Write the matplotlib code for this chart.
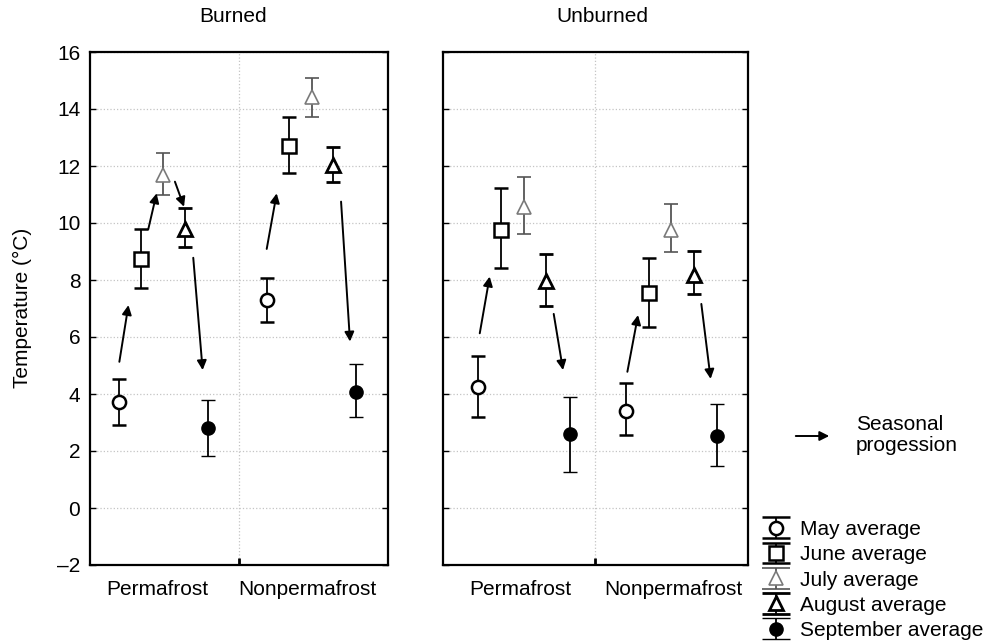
import matplotlib

matplotlib.use("Agg")

import matplotlib.pyplot as plt
import numpy as np
from matplotlib.container import ErrorbarContainer
from matplotlib.legend_handler import HandlerErrorbar
from matplotlib.patches import FancyArrowPatch
from matplotlib.ticker import FixedLocator

plt.rcParams["font.family"] = ["Liberation Sans", "DejaVu Sans"]

MONTHS = ["May", "June", "July", "August", "September"]
SITES = ["Permafrost", "Nonpermafrost"]
PANEL_TITLES = ["Burned", "Unburned"]

# monthly mean soil temperature with lower / upper error-bar ends (deg C)
burned_perm_mean = [3.73, 8.74, 11.70, 9.80, 2.80]
burned_perm_lo = [2.91, 7.73, 11.00, 9.17, 1.84]
burned_perm_hi = [4.52, 9.78, 12.47, 10.51, 3.79]

burned_nonperm_mean = [7.30, 12.70, 14.43, 12.04, 4.08]
burned_nonperm_lo = [6.54, 11.74, 13.71, 11.44, 3.18]
burned_nonperm_hi = [8.08, 13.71, 15.10, 12.68, 5.04]

unburned_perm_mean = [4.23, 9.75, 10.55, 7.95, 2.59]
unburned_perm_lo = [3.18, 8.41, 9.60, 7.10, 1.27]
unburned_perm_hi = [5.35, 11.24, 11.60, 8.91, 3.88]

unburned_nonperm_mean = [3.40, 7.55, 9.75, 8.18, 2.54]
unburned_nonperm_lo = [2.56, 6.34, 8.97, 7.51, 1.46]
unburned_nonperm_hi = [4.38, 8.76, 10.67, 9.02, 3.65]

# seasonal progression arrows: (x start, y start, x end, y end) in data units
burned_arrows = [
    (0.197, 5.13, 0.258, 7.12),
    (0.391, 9.78, 0.447, 11.04),
    (0.570, 11.45, 0.631, 10.57),
    (0.693, 8.78, 0.756, 4.84),
    (1.186, 9.09, 1.253, 11.04),
    (1.685, 10.75, 1.745, 5.84),
]
unburned_arrows = [
    (0.241, 6.13, 0.306, 8.12),
    (0.726, 6.81, 0.787, 4.84),
    (1.209, 4.78, 1.279, 6.77),
    (1.694, 7.16, 1.755, 4.53),
]

# layout
W, H = 987, 643
MONTH_OFFSETS = np.array([-0.30, -0.15, 0.0, 0.145, 0.30])
GROUP_CENTERS = [[0.493, 1.488], [0.530, 1.498]]
LABEL_POS = [[0.45, 1.46], [0.51, 1.51]]
FONT = 15
GRID_KW = dict(color="#c4c4c4", linestyle=":", linewidth=0.9)

MONTH_STYLES = [
    dict(fmt="o", mfc="white", mec="black", ecolor="black", mew=1.8),
    dict(fmt="s", mfc="white", mec="black", ecolor="black", mew=1.8),
    dict(fmt="^", mfc="white", mec="#7a7a7a", ecolor="#555555", mew=1.2),
    dict(fmt="^", mfc="white", mec="black", ecolor="black", mew=2.0),
    dict(fmt="o", mfc="black", mec="black", ecolor="black", mew=1.0),
]


def px_box(left: float, top: float, right: float, bottom: float) -> list[float]:
    return [left / W, 1 - bottom / H, (right - left) / W, (bottom - top) / H]


def draw_panel(ax, groups, centers, arrows, label_pos, show_ylabels: bool) -> None:
    for (mean, lo, hi), center in zip(groups, centers):
        xs = center + MONTH_OFFSETS
        for i, style in enumerate(MONTH_STYLES):
            yerr = [[mean[i] - lo[i]], [hi[i] - mean[i]]]
            ax.errorbar(
                xs[i], mean[i], yerr=yerr, ms=9.5, capsize=5,
                elinewidth=1.3, capthick=1.3, zorder=3, **style,
            )

    for x0, y0, x1, y1 in arrows:
        ax.annotate(
            "", xy=(x1, y1), xytext=(x0, y0),
            arrowprops=dict(arrowstyle="-|>", color="black", lw=1.4,
                            mutation_scale=14, shrinkA=0, shrinkB=0),
            zorder=4,
        )

    ax.set_xlim(0, 2)
    ax.set_ylim(-2, 16)
    ax.set_yticks(range(-2, 17, 2))
    ax.yaxis.set_major_formatter(lambda v, p: f"{v:.0f}".replace("-", "\u2013"))
    ax.tick_params(axis="y", direction="in", left=True, right=True, length=4,
                   width=1, labelsize=FONT, pad=7, labelleft=show_ylabels)

    ax.set_xticks(label_pos)
    ax.set_xticklabels(SITES)
    ax.tick_params(axis="x", which="major", length=0, pad=11, labelsize=FONT)
    ax.xaxis.set_minor_locator(FixedLocator([1]))
    ax.tick_params(axis="x", which="minor", direction="in", length=5, width=2)

    ax.grid(axis="y", which="major", **GRID_KW)
    ax.grid(axis="x", which="minor", **GRID_KW)
    ax.set_axisbelow(True)

    for spine in ax.spines.values():
        spine.set_linewidth(1.6)
        spine.set_color("black")


fig = plt.figure(figsize=(W / 100, H / 100), dpi=100)

panels = [
    [(burned_perm_mean, burned_perm_lo, burned_perm_hi),
     (burned_nonperm_mean, burned_nonperm_lo, burned_nonperm_hi)],
    [(unburned_perm_mean, unburned_perm_lo, unburned_perm_hi),
     (unburned_nonperm_mean, unburned_nonperm_lo, unburned_nonperm_hi)],
]
boxes = [px_box(90, 52, 388, 565), px_box(443, 52, 748, 565)]
arrow_sets = [burned_arrows, unburned_arrows]
title_x = [233, 602]

for k in range(2):
    ax = fig.add_axes(boxes[k])
    draw_panel(ax, panels[k], GROUP_CENTERS[k], arrow_sets[k], LABEL_POS[k], k == 0)
    fig.text(title_x[k] / W, 1 - 17 / H, PANEL_TITLES[k], ha="center", va="center",
             fontsize=FONT)

fig.text(22 / W, 1 - 308 / H, "Temperature (\u00b0C)", rotation=90, ha="center",
         va="center", fontsize=FONT)

# legend handles built on a hidden axes so the caps can be wider
hidden = fig.add_axes([0, 0, 0.01, 0.01])
hidden.set_visible(False)
handles = []
for style in MONTH_STYLES:
    handles.append(hidden.errorbar([0], [0], yerr=[1], ms=9.5, capsize=10,
                                   elinewidth=1.3, capthick=1.3, **style))

fig.legend(
    handles, [f"{m} average" for m in MONTHS],
    loc="lower left", bbox_to_anchor=(760 / W, 3 / H), frameon=False,
    fontsize=FONT, borderpad=0, borderaxespad=0, handlelength=1.55,
    handletextpad=0.35, labelspacing=0.3,
    handler_map={ErrorbarContainer: HandlerErrorbar()},
)

fig.add_artist(FancyArrowPatch((793 / W, 1 - 436 / H), (832 / W, 1 - 436 / H),
                               transform=fig.transFigure, arrowstyle="-|>",
                               mutation_scale=14, lw=1.4, color="black"))
fig.text(856 / W, 1 - 435 / H, "Seasonal\nprogession", ha="left", va="center",
         fontsize=FONT, linespacing=1.15)

fig.savefig("out.png", dpi=100)
